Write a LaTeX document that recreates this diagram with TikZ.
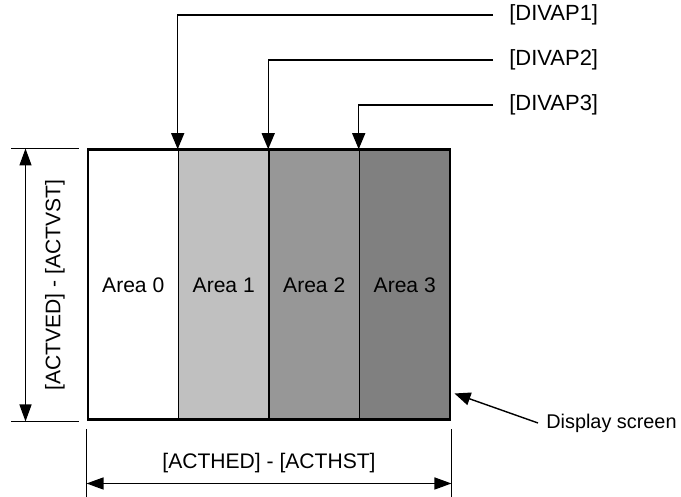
\documentclass[tikz,border=0pt]{standalone}
\usepackage{fontspec}
\setmainfont{Liberation Sans}
\usetikzlibrary{calc,positioning,arrows.meta}
\definecolor{areaA}{HTML}{FFFFFF}
\definecolor{areaB}{HTML}{C0C0C0}
\definecolor{areaC}{HTML}{979797}
\definecolor{areaD}{HTML}{808080}
\begin{document}
\begin{tikzpicture}[font=\fontsize{12}{14}\selectfont,
	conn/.style={line width=0.8pt},
	tip/.style={-{Triangle[length=0.32cm,width=0.26cm]}},
	dim/.style={{Triangle[length=0.34cm,width=0.24cm]}-{Triangle[length=0.34cm,width=0.24cm]}, line width=0.8pt},
	area/.style={draw, line width=0.9pt, minimum width=1.81cm, minimum height=5.4cm, inner sep=0}]
	\useasboundingbox (0,0) rectangle (13.62,9.94);
	\foreach \i/\col in {0/areaA,1/areaB,2/areaC,3/areaD}{
	\node[area, fill=\col] at ({1.76+1.81*(\i+.5)},4.24) (a\i) {Area \i};
	}
	\node[draw, line width=1.7pt, minimum width=7.24cm, minimum height=5.4cm] at (5.38,4.24) (scr) {};
	% division points
	\foreach \i/\y in {1/9.64,2/8.74,3/7.84}{
	\node[anchor=west, inner sep=0, font=\fontsize{12.5}{14}\selectfont] at (10.18,\y) (d\i) {[DIVAP\i]};
	\draw[conn, tip] ([xshift=-0.32cm]d\i.west) -| (a\i.north west);
	}
	% vertical size
	\draw[conn] ([xshift=-0.16cm]scr.north west) -- ++(-1.36,0);
	\draw[conn] ([xshift=-0.16cm]scr.south west) -- ++(-1.36,0);
	\coordinate (vt) at ($(scr.north west)+(-1.22,0)$);
	\coordinate (vb) at ($(scr.south west)+(-1.22,0)$);
	\draw[dim] (vb) -- (vt);
	\node[rotate=90] at (1.1,4.24) (vd) {[ACTVED] - [ACTVST]};
	% horizontal size
	\draw[conn] ([yshift=-0.16cm]scr.south west) -- ++(0,-1.38);
	\draw[conn] ([yshift=-0.16cm]scr.south east) -- ++(0,-1.38);
	\coordinate (hl) at ($(scr.south west)+(0,-1.24)$);
	\coordinate (hr) at ($(scr.south east)+(0,-1.24)$);
	\draw[dim] (hl) -- (hr);
	\node at (5.38,0.68) (hd) {[ACTHED] - [ACTHST]};
	\node[anchor=west, inner sep=0, font=\fontsize{11.3}{14}\selectfont] at (10.92,1.48) (ds) {Display screen};
	\draw[conn, tip] ([xshift=-0.16cm]ds.west) -- ([xshift=0.06cm,yshift=0.56cm]scr.south east);
\end{tikzpicture}
\end{document}
